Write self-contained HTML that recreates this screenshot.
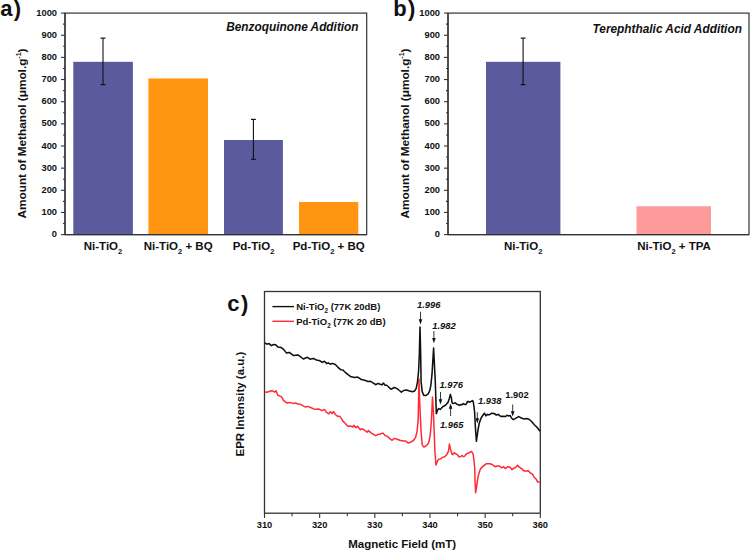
<!DOCTYPE html>
<html><head><meta charset="utf-8"><style>
html,body{margin:0;padding:0;background:#fff;width:750px;height:550px;overflow:hidden}
svg{display:block}
text{font-family:"Liberation Sans",sans-serif;font-weight:bold;fill:#111}
</style></head><body>
<svg width="750" height="550" viewBox="0 0 750 550">
<rect x="65" y="13.1" width="301.7" height="221.5" fill="none" stroke="#333" stroke-width="1.2"/>
<rect x="73.3" y="61.83" width="59.60" height="172.77" fill="#5b5a9c"/>
<rect x="148.4" y="78.44" width="59.60" height="156.16" fill="#ff9510"/>
<rect x="224" y="140.02" width="58.90" height="94.58" fill="#5b5a9c"/>
<rect x="299" y="202.04" width="59.30" height="32.56" fill="#ff9510"/>
<line x1="103.00" y1="38.13" x2="103.00" y2="84.64" stroke="#111" stroke-width="1.1"/>
<line x1="100.60" y1="38.13" x2="105.40" y2="38.13" stroke="#111" stroke-width="1.2"/>
<line x1="100.60" y1="84.64" x2="105.40" y2="84.64" stroke="#111" stroke-width="1.2"/>
<line x1="253.40" y1="119.42" x2="253.40" y2="159.29" stroke="#111" stroke-width="1.1"/>
<line x1="251.00" y1="119.42" x2="255.80" y2="119.42" stroke="#111" stroke-width="1.2"/>
<line x1="251.00" y1="159.29" x2="255.80" y2="159.29" stroke="#111" stroke-width="1.2"/>
<line x1="61.00" y1="234.60" x2="65.00" y2="234.60" stroke="#333" stroke-width="1.1"/>
<text x="57.00" y="237.20" font-size="9.3" text-anchor="end" font-style="normal" >0</text>
<line x1="63.00" y1="223.53" x2="65.00" y2="223.53" stroke="#333" stroke-width="1.1"/>
<line x1="61.00" y1="212.45" x2="65.00" y2="212.45" stroke="#333" stroke-width="1.1"/>
<text x="57.00" y="215.05" font-size="9.3" text-anchor="end" font-style="normal" >100</text>
<line x1="63.00" y1="201.38" x2="65.00" y2="201.38" stroke="#333" stroke-width="1.1"/>
<line x1="61.00" y1="190.30" x2="65.00" y2="190.30" stroke="#333" stroke-width="1.1"/>
<text x="57.00" y="192.90" font-size="9.3" text-anchor="end" font-style="normal" >200</text>
<line x1="63.00" y1="179.22" x2="65.00" y2="179.22" stroke="#333" stroke-width="1.1"/>
<line x1="61.00" y1="168.15" x2="65.00" y2="168.15" stroke="#333" stroke-width="1.1"/>
<text x="57.00" y="170.75" font-size="9.3" text-anchor="end" font-style="normal" >300</text>
<line x1="63.00" y1="157.07" x2="65.00" y2="157.07" stroke="#333" stroke-width="1.1"/>
<line x1="61.00" y1="146.00" x2="65.00" y2="146.00" stroke="#333" stroke-width="1.1"/>
<text x="57.00" y="148.60" font-size="9.3" text-anchor="end" font-style="normal" >400</text>
<line x1="63.00" y1="134.93" x2="65.00" y2="134.93" stroke="#333" stroke-width="1.1"/>
<line x1="61.00" y1="123.85" x2="65.00" y2="123.85" stroke="#333" stroke-width="1.1"/>
<text x="57.00" y="126.45" font-size="9.3" text-anchor="end" font-style="normal" >500</text>
<line x1="63.00" y1="112.77" x2="65.00" y2="112.77" stroke="#333" stroke-width="1.1"/>
<line x1="61.00" y1="101.70" x2="65.00" y2="101.70" stroke="#333" stroke-width="1.1"/>
<text x="57.00" y="104.30" font-size="9.3" text-anchor="end" font-style="normal" >600</text>
<line x1="63.00" y1="90.62" x2="65.00" y2="90.62" stroke="#333" stroke-width="1.1"/>
<line x1="61.00" y1="79.55" x2="65.00" y2="79.55" stroke="#333" stroke-width="1.1"/>
<text x="57.00" y="82.15" font-size="9.3" text-anchor="end" font-style="normal" >700</text>
<line x1="63.00" y1="68.47" x2="65.00" y2="68.47" stroke="#333" stroke-width="1.1"/>
<line x1="61.00" y1="57.40" x2="65.00" y2="57.40" stroke="#333" stroke-width="1.1"/>
<text x="57.00" y="60.00" font-size="9.3" text-anchor="end" font-style="normal" >800</text>
<line x1="63.00" y1="46.32" x2="65.00" y2="46.32" stroke="#333" stroke-width="1.1"/>
<line x1="61.00" y1="35.25" x2="65.00" y2="35.25" stroke="#333" stroke-width="1.1"/>
<text x="57.00" y="37.85" font-size="9.3" text-anchor="end" font-style="normal" >900</text>
<line x1="63.00" y1="24.17" x2="65.00" y2="24.17" stroke="#333" stroke-width="1.1"/>
<line x1="61.00" y1="13.10" x2="65.00" y2="13.10" stroke="#333" stroke-width="1.1"/>
<text x="57.00" y="15.70" font-size="9.3" text-anchor="end" font-style="normal" >1000</text>
<line x1="65.00" y1="234.60" x2="366.70" y2="234.60" stroke="#333" stroke-width="1.3"/>
<line x1="65.00" y1="13.10" x2="65.00" y2="234.60" stroke="#333" stroke-width="1.3"/>
<text x="358.60" y="31.30" font-size="11.85" text-anchor="end" font-style="italic" >Benzoquinone Addition</text>
<text x="103" y="250" font-size="11.5" text-anchor="middle">Ni-TiO<tspan font-size="7.5" dy="3.6">2</tspan><tspan dy="-3.6"></tspan></text>
<text x="178.2" y="250" font-size="11.5" text-anchor="middle">Ni-TiO<tspan font-size="7.5" dy="3.6">2</tspan><tspan dy="-3.6"> + BQ</tspan></text>
<text x="253.5" y="250" font-size="11.5" text-anchor="middle">Pd-TiO<tspan font-size="7.5" dy="3.6">2</tspan><tspan dy="-3.6"></tspan></text>
<text x="328.7" y="250" font-size="11.5" text-anchor="middle">Pd-TiO<tspan font-size="7.5" dy="3.6">2</tspan><tspan dy="-3.6"> + BQ</tspan></text>
<text transform="translate(26.1,133.5) rotate(-90)" font-size="11.8" text-anchor="middle">Amount of Methanol (μmol.g<tspan font-size="7" dy="-4.8">-1</tspan><tspan dy="4.8">)</tspan></text>
<rect x="448" y="13.1" width="301" height="221.5" fill="none" stroke="#333" stroke-width="1.2"/>
<rect x="486" y="61.83" width="74.40" height="172.77" fill="#5b5a9c"/>
<rect x="636.5" y="206.25" width="74.50" height="28.35" fill="#ff9a9a"/>
<line x1="523.10" y1="38.13" x2="523.10" y2="84.64" stroke="#111" stroke-width="1.1"/>
<line x1="520.70" y1="38.13" x2="525.50" y2="38.13" stroke="#111" stroke-width="1.2"/>
<line x1="520.70" y1="84.64" x2="525.50" y2="84.64" stroke="#111" stroke-width="1.2"/>
<line x1="444.00" y1="234.60" x2="448.00" y2="234.60" stroke="#333" stroke-width="1.1"/>
<text x="440.00" y="237.20" font-size="9.3" text-anchor="end" font-style="normal" >0</text>
<line x1="446.00" y1="223.53" x2="448.00" y2="223.53" stroke="#333" stroke-width="1.1"/>
<line x1="444.00" y1="212.45" x2="448.00" y2="212.45" stroke="#333" stroke-width="1.1"/>
<text x="440.00" y="215.05" font-size="9.3" text-anchor="end" font-style="normal" >100</text>
<line x1="446.00" y1="201.38" x2="448.00" y2="201.38" stroke="#333" stroke-width="1.1"/>
<line x1="444.00" y1="190.30" x2="448.00" y2="190.30" stroke="#333" stroke-width="1.1"/>
<text x="440.00" y="192.90" font-size="9.3" text-anchor="end" font-style="normal" >200</text>
<line x1="446.00" y1="179.22" x2="448.00" y2="179.22" stroke="#333" stroke-width="1.1"/>
<line x1="444.00" y1="168.15" x2="448.00" y2="168.15" stroke="#333" stroke-width="1.1"/>
<text x="440.00" y="170.75" font-size="9.3" text-anchor="end" font-style="normal" >300</text>
<line x1="446.00" y1="157.07" x2="448.00" y2="157.07" stroke="#333" stroke-width="1.1"/>
<line x1="444.00" y1="146.00" x2="448.00" y2="146.00" stroke="#333" stroke-width="1.1"/>
<text x="440.00" y="148.60" font-size="9.3" text-anchor="end" font-style="normal" >400</text>
<line x1="446.00" y1="134.93" x2="448.00" y2="134.93" stroke="#333" stroke-width="1.1"/>
<line x1="444.00" y1="123.85" x2="448.00" y2="123.85" stroke="#333" stroke-width="1.1"/>
<text x="440.00" y="126.45" font-size="9.3" text-anchor="end" font-style="normal" >500</text>
<line x1="446.00" y1="112.77" x2="448.00" y2="112.77" stroke="#333" stroke-width="1.1"/>
<line x1="444.00" y1="101.70" x2="448.00" y2="101.70" stroke="#333" stroke-width="1.1"/>
<text x="440.00" y="104.30" font-size="9.3" text-anchor="end" font-style="normal" >600</text>
<line x1="446.00" y1="90.62" x2="448.00" y2="90.62" stroke="#333" stroke-width="1.1"/>
<line x1="444.00" y1="79.55" x2="448.00" y2="79.55" stroke="#333" stroke-width="1.1"/>
<text x="440.00" y="82.15" font-size="9.3" text-anchor="end" font-style="normal" >700</text>
<line x1="446.00" y1="68.47" x2="448.00" y2="68.47" stroke="#333" stroke-width="1.1"/>
<line x1="444.00" y1="57.40" x2="448.00" y2="57.40" stroke="#333" stroke-width="1.1"/>
<text x="440.00" y="60.00" font-size="9.3" text-anchor="end" font-style="normal" >800</text>
<line x1="446.00" y1="46.32" x2="448.00" y2="46.32" stroke="#333" stroke-width="1.1"/>
<line x1="444.00" y1="35.25" x2="448.00" y2="35.25" stroke="#333" stroke-width="1.1"/>
<text x="440.00" y="37.85" font-size="9.3" text-anchor="end" font-style="normal" >900</text>
<line x1="446.00" y1="24.17" x2="448.00" y2="24.17" stroke="#333" stroke-width="1.1"/>
<line x1="444.00" y1="13.10" x2="448.00" y2="13.10" stroke="#333" stroke-width="1.1"/>
<text x="440.00" y="15.70" font-size="9.3" text-anchor="end" font-style="normal" >1000</text>
<line x1="448.00" y1="234.60" x2="749.00" y2="234.60" stroke="#333" stroke-width="1.3"/>
<line x1="448.00" y1="13.10" x2="448.00" y2="234.60" stroke="#333" stroke-width="1.3"/>
<text x="741.90" y="32.60" font-size="11.85" text-anchor="end" font-style="italic" >Terephthalic Acid Addition</text>
<text x="523.2" y="250" font-size="11.5" text-anchor="middle">Ni-TiO<tspan font-size="7.5" dy="3.6">2</tspan><tspan dy="-3.6"></tspan></text>
<text x="674" y="250" font-size="11.5" text-anchor="middle">Ni-TiO<tspan font-size="7.5" dy="3.6">2</tspan><tspan dy="-3.6"> + TPA</tspan></text>
<text transform="translate(408.7,133.5) rotate(-90)" font-size="11.8" text-anchor="middle">Amount of Methanol (μmol.g<tspan font-size="7" dy="-4.8">-1</tspan><tspan dy="4.8">)</tspan></text>
<text x="0.30" y="16.20" font-size="22" text-anchor="start" font-style="normal" >a<tspan dx='1.2'>)</tspan></text>
<text x="393.30" y="16.20" font-size="22" text-anchor="start" font-style="normal" >b<tspan dx='1.3'>)</tspan></text>
<text x="227.30" y="310.60" font-size="22" text-anchor="start" font-style="normal" >c<tspan dx='1.4'>)</tspan></text>
<rect x="264.5" y="291.5" width="275.79999999999995" height="221.70000000000005" fill="none" stroke="#333" stroke-width="1.3"/>
<line x1="264.50" y1="513.20" x2="264.50" y2="518.00" stroke="#333" stroke-width="1.1"/>
<text x="264.50" y="528.00" font-size="9.3" text-anchor="middle" font-style="normal" >310</text>
<line x1="292.08" y1="513.20" x2="292.08" y2="516.20" stroke="#333" stroke-width="1.1"/>
<line x1="319.66" y1="513.20" x2="319.66" y2="518.00" stroke="#333" stroke-width="1.1"/>
<text x="319.66" y="528.00" font-size="9.3" text-anchor="middle" font-style="normal" >320</text>
<line x1="347.24" y1="513.20" x2="347.24" y2="516.20" stroke="#333" stroke-width="1.1"/>
<line x1="374.82" y1="513.20" x2="374.82" y2="518.00" stroke="#333" stroke-width="1.1"/>
<text x="374.82" y="528.00" font-size="9.3" text-anchor="middle" font-style="normal" >330</text>
<line x1="402.40" y1="513.20" x2="402.40" y2="516.20" stroke="#333" stroke-width="1.1"/>
<line x1="429.98" y1="513.20" x2="429.98" y2="518.00" stroke="#333" stroke-width="1.1"/>
<text x="429.98" y="528.00" font-size="9.3" text-anchor="middle" font-style="normal" >340</text>
<line x1="457.56" y1="513.20" x2="457.56" y2="516.20" stroke="#333" stroke-width="1.1"/>
<line x1="485.14" y1="513.20" x2="485.14" y2="518.00" stroke="#333" stroke-width="1.1"/>
<text x="485.14" y="528.00" font-size="9.3" text-anchor="middle" font-style="normal" >350</text>
<line x1="512.72" y1="513.20" x2="512.72" y2="516.20" stroke="#333" stroke-width="1.1"/>
<line x1="540.30" y1="513.20" x2="540.30" y2="518.00" stroke="#333" stroke-width="1.1"/>
<text x="540.30" y="528.00" font-size="9.3" text-anchor="middle" font-style="normal" >360</text>
<text x="402.20" y="547.80" font-size="11.5" text-anchor="middle" font-style="normal" >Magnetic Field (mT)</text>
<text transform="translate(244,404.1) rotate(-90)" font-size="11.5" text-anchor="middle">EPR Intensity (a.u.)</text>
<polyline points="264.7,392.0 266.9,392.2 269.1,391.5 271.3,390.7 272.9,391.1 274.5,392.0 276.2,390.9 277.8,395.3 280.0,396.1 281.6,396.9 283.3,400.2 285.4,401.8 287.1,403.1 289.8,402.4 292.5,403.4 295.3,402.9 298.0,404.0 300.2,404.2 302.9,405.9 305.6,407.0 307.8,406.4 311.1,407.8 313.8,408.9 316.5,409.2 318.7,408.9 321.8,410.6 324.4,409.4 326.5,412.4 328.7,413.8 330.4,411.8 332.0,413.4 333.6,411.6 335.3,414.5 337.4,416.2 339.6,416.2 341.3,418.4 342.9,421.1 345.1,423.3 347.8,426.2 350.5,426.0 352.7,427.1 353.8,425.4 356.0,427.6 357.6,426.2 360.3,429.8 362.0,428.7 364.7,430.3 366.9,432.3 368.5,430.6 371.3,433.1 375.6,435.6 378.0,434.5 380.2,434.0 382.9,433.1 385.1,435.6 387.3,436.2 390.0,438.9 392.2,440.3 394.4,438.4 397.1,439.2 399.8,440.3 403.1,441.1 405.8,441.1 408.0,442.9 410.7,442.2 413.4,440.5 415.6,437.3 417.0,431.8 418.1,420.9 418.6,400.0 419.0,379.1 419.6,400.0 420.3,415.0 421.1,431.8 422.2,444.9 423.8,447.1 426.0,446.0 428.2,443.8 429.3,440.5 430.3,434.0 431.4,420.9 432.5,397.1 433.4,412.0 434.2,431.8 434.9,451.8 436.0,464.9 436.2,464.7 437.1,462.0 438.5,459.3 440.4,459.0 442.5,457.4 444.7,456.8 446.9,454.4 448.5,451.1 449.4,444.0 450.5,448.9 451.8,453.8 452.9,454.6 454.3,452.7 455.6,453.8 457.3,454.6 458.9,456.8 460.5,456.8 461.9,455.5 463.8,456.8 465.2,455.5 466.3,453.8 468.2,453.3 469.6,452.5 471.5,451.4 473.1,453.8 473.9,459.8 474.7,468.0 475.0,479.7 475.6,492.7 476.8,485.4 478.1,476.3 480.4,468.9 482.7,466.6 486.1,463.8 489.5,463.8 490.0,463.8 491.5,464.2 493.3,465.3 495.1,466.7 497.0,466.0 499.5,466.0 501.7,467.8 503.6,466.7 505.4,468.6 507.6,466.7 509.8,467.1 512.0,469.7 513.8,468.2 515.7,467.5 517.5,465.3 519.3,467.1 521.5,468.6 524.1,471.1 526.3,471.1 528.1,470.4 530.3,473.0 532.5,474.1 534.0,477.0 536.2,479.2 537.7,482.1 539.8,482.0" fill="none" stroke="#ff2a35" stroke-width="1.5" stroke-linejoin="round"/>
<polyline points="264.7,342.9 266.9,344.2 269.1,343.6 271.3,345.6 273.5,344.5 275.6,344.7 277.8,346.9 281.1,347.4 283.8,349.6 286.5,353.1 289.3,352.4 293.6,355.6 298.0,354.9 303.4,359.0 307.3,357.3 310.0,359.2 313.3,358.4 316.5,360.0 320.0,360.8 322.2,362.4 324.4,361.3 326.5,363.4 328.2,362.9 330.4,364.2 332.5,363.4 335.3,364.5 338.0,367.3 340.7,369.7 342.9,370.0 345.6,372.7 348.4,374.9 351.1,376.8 354.9,377.6 357.6,377.1 361.4,379.5 364.7,380.3 368.0,381.4 370.2,381.2 373.4,383.1 375.6,384.7 378.0,383.4 380.2,384.2 381.8,384.9 383.5,383.1 385.1,385.3 386.7,385.3 388.9,387.3 391.1,389.2 394.4,387.5 397.1,388.6 399.3,390.5 401.4,392.2 403.6,390.5 406.4,390.0 409.6,391.1 412.4,391.8 414.5,391.1 416.2,388.4 417.5,381.8 418.6,370.9 419.3,355.0 420.0,327.0 420.7,355.0 421.1,381.8 422.2,391.6 423.8,395.4 426.0,395.4 428.2,393.8 429.8,390.5 430.9,385.1 432.0,374.2 433.0,358.0 433.6,348.0 434.2,360.0 435.3,381.8 436.3,413.8 437.7,410.0 438.8,408.6 440.5,409.4 442.1,407.3 443.7,406.2 445.4,405.3 447.0,403.4 448.0,402.4 449.2,398.8 450.4,394.4 451.4,398.0 452.0,402.4 452.8,403.4 454.0,403.2 455.4,402.8 456.8,404.2 458.4,404.8 459.6,405.4 460.8,404.6 462.0,404.8 463.4,403.6 464.4,404.2 465.8,404.6 466.6,403.6 467.4,401.6 468.8,401.6 470.0,402.2 471.2,401.4 472.4,400.6 473.2,401.6 474.0,406.8 474.6,412.0 475.3,425.8 476.4,441.3 478.0,430.0 479.3,422.9 481.1,418.0 482.9,415.3 484.4,413.2 485.9,415.9 487.4,414.4 489.6,414.7 491.9,413.2 494.1,413.5 496.3,415.0 498.1,414.4 500.8,416.4 503.0,416.2 505.3,416.6 507.0,415.3 508.8,415.9 510.2,415.5 511.5,418.0 513.3,419.7 515.5,418.4 518.7,416.6 521.8,418.2 524.5,419.1 526.7,418.6 529.4,419.5 531.6,421.5 534.3,424.7 537.0,427.3 540.0,431.2" fill="none" stroke="#111" stroke-width="1.55" stroke-linejoin="round"/>
<line x1="272.40" y1="306.60" x2="294.00" y2="306.60" stroke="#111" stroke-width="1.4"/>
<line x1="272.40" y1="321.30" x2="294.00" y2="321.30" stroke="#ff2a35" stroke-width="1.4"/>
<text x="296.2" y="310.3" font-size="9.5">Ni-TiO<tspan font-size="6.3" dy="2.8">2</tspan><tspan dy="-2.8"> (77K 20dB)</tspan></text>
<text x="296.2" y="324.8" font-size="9.5">Pd-TiO<tspan font-size="6.3" dy="2.8">2</tspan><tspan dy="-2.8"> (77K 20 dB)</tspan></text>
<text x="417.00" y="307.50" font-size="9.4" text-anchor="start" font-style="italic" >1.996</text>
<text x="432.30" y="328.90" font-size="9.4" text-anchor="start" font-style="italic" >1.982</text>
<text x="439.40" y="387.80" font-size="9.4" text-anchor="start" font-style="italic" >1.976</text>
<text x="439.90" y="428.00" font-size="9.4" text-anchor="start" font-style="italic" >1.965</text>
<text x="478.00" y="404.20" font-size="9.4" text-anchor="start" font-style="italic" >1.938</text>
<text x="505.30" y="397.60" font-size="9.4" text-anchor="start" font-style="normal" >1.902</text>
<line x1="420.50" y1="311.80" x2="420.50" y2="320.50" stroke="#222" stroke-width="0.9"/>
<polygon points="418.70,319.20 422.30,319.20 420.50,324.50" fill="#111"/>
<line x1="433.90" y1="331.00" x2="433.90" y2="339.20" stroke="#222" stroke-width="0.9"/>
<polygon points="432.10,337.90 435.70,337.90 433.90,343.20" fill="#111"/>
<line x1="440.50" y1="392.00" x2="440.50" y2="400.50" stroke="#222" stroke-width="0.9"/>
<polygon points="438.70,399.20 442.30,399.20 440.50,404.50" fill="#111"/>
<line x1="450.60" y1="416.00" x2="450.60" y2="407.50" stroke="#222" stroke-width="0.9"/>
<polygon points="448.80,408.80 452.40,408.80 450.60,403.50" fill="#111"/>
<line x1="477.30" y1="412.20" x2="477.30" y2="419.60" stroke="#222" stroke-width="0.9"/>
<polygon points="475.50,418.30 479.10,418.30 477.30,423.60" fill="#111"/>
<line x1="512.70" y1="404.50" x2="512.70" y2="412.50" stroke="#222" stroke-width="0.9"/>
<polygon points="510.90,411.20 514.50,411.20 512.70,416.50" fill="#111"/>
</svg>
</body></html>
